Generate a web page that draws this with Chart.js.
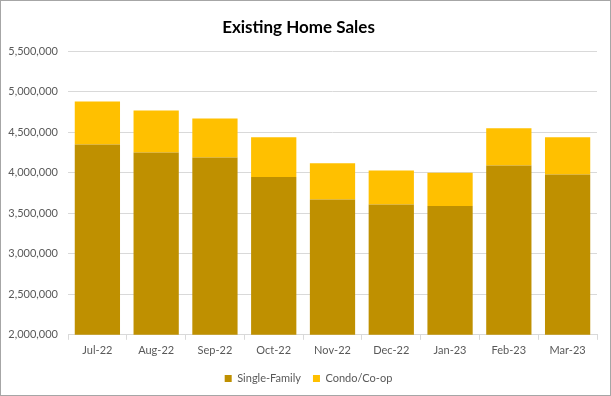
<!DOCTYPE html>
<html>
<head>
<meta charset="utf-8">
<script src="https://cdn.jsdelivr.net/npm/chart.js@4"></script>
<style>
html,body{margin:0;padding:0;background:#fff;}
#wrap{width:611px;height:396px;position:relative;}
canvas{display:block;}
</style>
</head>
<body>
<div id="wrap"><canvas id="c" width="611" height="396"></canvas></div>
<script>
const categories = ["Jul-22","Aug-22","Sep-22","Oct-22","Nov-22","Dec-22","Jan-23","Feb-23","Mar-23"];
const singleFamily = [4350000,4250000,4190000,3950000,3670000,3610000,3590000,4090000,3980000];
const condoCoop = [530000,520000,480000,490000,450000,420000,410000,460000,460000];
const yTicks = {min:2000000, max:5500000, step:500000};

const borderPlugin = {
  id:'outerBorder',
  afterLayout(chart){
    if (chart.legend) { chart.legend.left += 10; chart.legend.right += 10; }
  },
  afterDraw(chart){
    const c = chart.ctx;
    c.save();
    c.strokeStyle = '#a6a6a6';
    c.lineWidth = 1;
    c.strokeRect(0.5,0.5,chart.width-1,chart.height-1);
    c.restore();
  }
};

const fontFam = "Lato, 'Open Sans', sans-serif";
new Chart(document.getElementById('c'), {
  type:'bar',
  data:{
    labels:categories,
    datasets:[
      {label:'Single-Family', data:singleFamily, backgroundColor:'#bf9000', barPercentage:0.77, categoryPercentage:1.0},
      {label:'Condo/Co-op', data:condoCoop, backgroundColor:'#ffc000', barPercentage:0.77, categoryPercentage:1.0}
    ]
  },
  options:{
    responsive:false,
    animation:false,
    layout:{padding:{left:0,right:14,top:8,bottom:2}},
    plugins:{
      title:{display:true,text:'Existing Home Sales',color:'#000',font:{family:fontFam,size:17,weight:'bold'},padding:{top:9,bottom:14}},
      legend:{position:'bottom',labels:{boxWidth:7,boxHeight:7,color:'#595959',font:{family:fontFam,size:11},padding:12}},
      tooltip:{enabled:false}
    },
    scales:{
      x:{
        stacked:true,
        grid:{display:true,drawOnChartArea:false,offset:true,color:'#d9d9d9',tickLength:5},
        border:{display:true,color:'#d9d9d9'},
        ticks:{color:'#595959',font:{family:fontFam,size:11},padding:4}
      },
      y:{
        stacked:true,
        min:yTicks.min,max:yTicks.max,
        ticks:{stepSize:yTicks.step,color:'#595959',font:{family:fontFam,size:11},padding:10,
          callback:v=>v.toLocaleString('en-US')},
        grid:{color:'#d9d9d9',drawTicks:false},
        border:{display:false},
        afterFit(s){s.width=68;}
      }
    }
  },
  plugins:[borderPlugin]
});
</script>
</body>
</html>
